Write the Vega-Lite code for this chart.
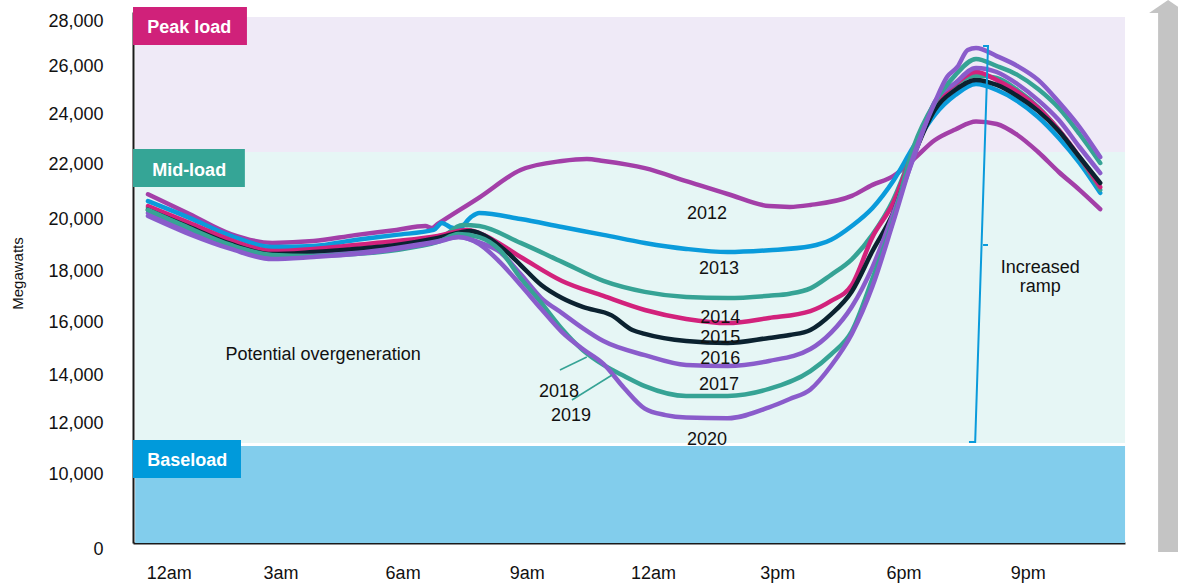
{
  "$schema": "https://vega.github.io/schema/vega-lite/v6.json",
  "width": 992,
  "height": 543,
  "autosize": {"type": "none"},
  "padding": {"left": 133, "top": 0, "right": 53, "bottom": 43},
  "background": "white",
  "config": {"view": {"stroke": null}, "font": "Liberation Sans"},
  "resolve": {"scale": {"color": "independent"}},
  "layer": [
    {
      "data": {"values": [
        {"zone": "peak", "x0": -0.31, "x1": 23.6, "y0": 22480, "y1": 28180},
        {"zone": "mid", "x0": -0.31, "x1": 23.6, "y0": 11216, "y1": 22480},
        {"zone": "base", "x0": -0.31, "x1": 23.6, "y0": 0, "y1": 11098}
      ]},
      "mark": {"type": "rect"},
      "encoding": {
        "x": {"field": "x0", "type": "quantitative",
          "scale": {"domain": [-0.3623, 23.599], "zero": false, "nice": false},
          "axis": {"title": null, "values": [0.5, 3.2, 6.15, 9.15, 12.2, 15.2, 18.25, 21.25],
            "labelExpr": "datum.value < 1 ? '12am' : datum.value < 4 ? '3am' : datum.value < 7 ? '6am' : datum.value < 10 ? '9am' : datum.value < 13 ? '12am' : datum.value < 16 ? '3pm' : datum.value < 19 ? '6pm' : '9pm'",
            "grid": false, "ticks": false, "domainColor": "#1a1a1a", "domainWidth": 2,
            "labelFontSize": 18, "labelColor": "#111111", "labelPadding": 21, "labelOverlap": false, "labelFlush": false}},
        "x2": {"field": "x1"},
        "y": {"field": "y0", "type": "quantitative",
          "scale": {"domain": [0, 10000, 12000, 14000, 16000, 18000, 20000, 22000, 24000, 26000, 28000, 28400],
                    "range": [543, 474, 423, 375, 322, 271, 219, 164, 114, 66, 21, 12], "zero": false, "nice": false},
          "axis": {"title": "Megawatts", "values": [0, 10000, 12000, 14000, 16000, 18000, 20000, 22000, 24000, 26000, 28000],
            "labelExpr": "format(datum.value, ',')", "grid": false, "ticks": false, "domainColor": "#1a1a1a", "domainWidth": 2,
            "labelFontSize": 18, "labelColor": "#111111", "labelPadding": 30, "labelOverlap": false,
            "labelOffset": {"condition": {"test": "datum.value === 0", "value": 6}, "value": 0},
            "titleFontSize": 15, "titleFontWeight": "normal", "titleColor": "#111111",
            "titleX": -116, "titleY": 273, "titleBaseline": "middle", "titleAlign": "center"}},
        "y2": {"field": "y1"},
        "color": {"field": "zone", "type": "nominal", "legend": null,
          "scale": {"domain": ["peak", "mid", "base"], "range": ["#EFEAF7", "#E6F6F5", "#82CDEC"]}}
      }
    },
    {
      "data": {"values": [
        {"zone": "Peak load", "x0": -0.362, "x1": 2.39, "y0": 26933, "y1": 28622},
        {"zone": "Mid-load", "x0": -0.362, "x1": 2.34, "y0": 21164, "y1": 22600},
        {"zone": "Baseload", "x0": -0.362, "x1": 2.246, "y0": 9420, "y1": 11333}
      ]},
      "mark": {"type": "rect"},
      "encoding": {
        "x": {"field": "x0", "type": "quantitative"},
        "x2": {"field": "x1"},
        "y": {"field": "y0", "type": "quantitative"},
        "y2": {"field": "y1"},
        "color": {"field": "zone", "type": "nominal", "legend": null,
          "scale": {"domain": ["Peak load", "Mid-load", "Baseload"], "range": ["#D0217A", "#35A596", "#009ADB"]}}
      }
    },
    {
      "data": {"values": [
        {"t": "Peak load", "hour": -0.02, "mw": 27467},
        {"t": "Mid-load", "hour": 0.1, "mw": 21564},
        {"t": "Baseload", "hour": -0.02, "mw": 10314}
      ]},
      "mark": {"type": "text", "align": "left", "baseline": "alphabetic", "fontSize": 18, "fontWeight": "bold", "color": "white"},
      "encoding": {
        "x": {"field": "hour", "type": "quantitative"},
        "y": {"field": "mw", "type": "quantitative"},
        "text": {"field": "t"}
      }
    },
    {
      "data": {"values": [
        {"year":"2012","hour":0,"mw":20900},{"year":"2012","hour":1,"mw":20180},{"year":"2012","hour":2,"mw":19420},{"year":"2012","hour":3,"mw":19080},{"year":"2012","hour":4,"mw":19150},{"year":"2012","hour":5,"mw":19380},{"year":"2012","hour":6,"mw":19580},{"year":"2012","hour":6.7,"mw":19730},{"year":"2012","hour":6.85,"mw":19650},{"year":"2012","hour":7,"mw":19810},{"year":"2012","hour":8,"mw":20780},{"year":"2012","hour":9,"mw":21780},{"year":"2012","hour":10,"mw":22120},{"year":"2012","hour":10.6,"mw":22200},{"year":"2012","hour":11,"mw":22120},{"year":"2012","hour":12,"mw":21850},{"year":"2012","hour":13,"mw":21380},{"year":"2012","hour":14,"mw":20910},{"year":"2012","hour":15,"mw":20470},{"year":"2012","hour":15.5,"mw":20440},{"year":"2012","hour":16,"mw":20510},{"year":"2012","hour":17,"mw":20840},{"year":"2012","hour":17.5,"mw":21240},{"year":"2012","hour":18,"mw":21560},{"year":"2012","hour":18.5,"mw":22200},{"year":"2012","hour":19,"mw":22950},{"year":"2012","hour":19.5,"mw":23380},{"year":"2012","hour":20,"mw":23700},{"year":"2012","hour":20.5,"mw":23600},{"year":"2012","hour":21,"mw":23160},{"year":"2012","hour":21.5,"mw":22480},{"year":"2012","hour":22,"mw":21710},{"year":"2012","hour":22.5,"mw":21060},{"year":"2012","hour":23,"mw":20360},
        {"year":"2013","hour":0,"mw":20650},{"year":"2013","hour":1,"mw":20040},{"year":"2013","hour":2,"mw":19350},{"year":"2013","hour":3,"mw":18920},{"year":"2013","hour":4,"mw":18960},{"year":"2013","hour":5,"mw":19190},{"year":"2013","hour":6,"mw":19390},{"year":"2013","hour":6.9,"mw":19580},{"year":"2013","hour":7.1,"mw":19850},{"year":"2013","hour":7.3,"mw":19690},{"year":"2013","hour":7.5,"mw":19620},{"year":"2013","hour":7.8,"mw":20070},{"year":"2013","hour":8,"mw":20220},{"year":"2013","hour":9,"mw":20000},{"year":"2013","hour":10,"mw":19690},{"year":"2013","hour":11,"mw":19390},{"year":"2013","hour":12,"mw":19080},{"year":"2013","hour":13,"mw":18850},{"year":"2013","hour":14,"mw":18730},{"year":"2013","hour":15,"mw":18800},{"year":"2013","hour":16,"mw":18950},{"year":"2013","hour":16.5,"mw":19200},{"year":"2013","hour":17,"mw":19730},{"year":"2013","hour":17.5,"mw":20400},{"year":"2013","hour":18,"mw":21380},{"year":"2013","hour":18.5,"mw":22720},{"year":"2013","hour":19,"mw":23960},{"year":"2013","hour":19.5,"mw":24790},{"year":"2013","hour":20,"mw":25250},{"year":"2013","hour":20.5,"mw":25000},{"year":"2013","hour":21,"mw":24540},{"year":"2013","hour":21.5,"mw":23880},{"year":"2013","hour":22,"mw":23040},{"year":"2013","hour":22.5,"mw":22040},{"year":"2013","hour":23,"mw":20950},
        {"year":"2014","hour":0,"mw":20400},{"year":"2014","hour":1,"mw":19730},{"year":"2014","hour":2,"mw":19080},{"year":"2014","hour":3,"mw":18690},{"year":"2014","hour":4,"mw":18650},{"year":"2014","hour":5,"mw":18730},{"year":"2014","hour":6,"mw":18890},{"year":"2014","hour":7,"mw":19190},{"year":"2014","hour":7.6,"mw":19770},{"year":"2014","hour":8,"mw":19730},{"year":"2014","hour":9,"mw":19080},{"year":"2014","hour":10,"mw":18350},{"year":"2014","hour":11,"mw":17610},{"year":"2014","hour":12,"mw":17180},{"year":"2014","hour":13,"mw":16980},{"year":"2014","hour":14,"mw":16940},{"year":"2014","hour":15,"mw":17030},{"year":"2014","hour":15.5,"mw":17110},{"year":"2014","hour":16,"mw":17320},{"year":"2014","hour":16.5,"mw":17850},{"year":"2014","hour":17,"mw":18450},{"year":"2014","hour":17.5,"mw":19400},{"year":"2014","hour":18,"mw":20690},{"year":"2014","hour":18.5,"mw":22560},{"year":"2014","hour":19,"mw":24170},{"year":"2014","hour":19.5,"mw":25210},{"year":"2014","hour":20,"mw":25600},{"year":"2014","hour":20.5,"mw":25500},{"year":"2014","hour":21,"mw":25000},{"year":"2014","hour":21.5,"mw":24290},{"year":"2014","hour":22,"mw":23360},{"year":"2014","hour":22.5,"mw":22240},{"year":"2014","hour":23,"mw":21060},
        {"year":"2015","hour":0,"mw":20470},{"year":"2015","hour":1,"mw":19850},{"year":"2015","hour":2,"mw":19190},{"year":"2015","hour":3,"mw":18770},{"year":"2015","hour":4,"mw":18850},{"year":"2015","hour":5,"mw":19000},{"year":"2015","hour":6,"mw":19150},{"year":"2015","hour":7,"mw":19350},{"year":"2015","hour":7.7,"mw":19580},{"year":"2015","hour":8,"mw":19460},{"year":"2015","hour":9,"mw":18540},{"year":"2015","hour":10,"mw":17610},{"year":"2015","hour":11,"mw":17020},{"year":"2015","hour":12,"mw":16470},{"year":"2015","hour":13,"mw":16120},{"year":"2015","hour":14,"mw":15960},{"year":"2015","hour":15,"mw":16160},{"year":"2015","hour":16,"mw":16430},{"year":"2015","hour":16.5,"mw":16830},{"year":"2015","hour":17,"mw":17450},{"year":"2015","hour":17.5,"mw":19310},{"year":"2015","hour":18,"mw":20580},{"year":"2015","hour":18.5,"mw":22560},{"year":"2015","hour":19,"mw":24380},{"year":"2015","hour":19.5,"mw":25250},{"year":"2015","hour":20,"mw":25750},{"year":"2015","hour":20.5,"mw":25420},{"year":"2015","hour":21,"mw":24920},{"year":"2015","hour":21.5,"mw":24250},{"year":"2015","hour":22,"mw":23360},{"year":"2015","hour":22.5,"mw":22280},{"year":"2015","hour":23,"mw":21160},
        {"year":"2016","hour":0,"mw":20330},{"year":"2016","hour":1,"mw":19690},{"year":"2016","hour":2,"mw":19040},{"year":"2016","hour":3,"mw":18650},{"year":"2016","hour":4,"mw":18730},{"year":"2016","hour":5,"mw":18850},{"year":"2016","hour":6,"mw":19000},{"year":"2016","hour":7,"mw":19270},{"year":"2016","hour":7.8,"mw":19540},{"year":"2016","hour":8,"mw":19460},{"year":"2016","hour":8.7,"mw":18690},{"year":"2016","hour":9,"mw":18230},{"year":"2016","hour":9.5,"mw":17450},{"year":"2016","hour":10,"mw":16940},{"year":"2016","hour":10.5,"mw":16590},{"year":"2016","hour":11.2,"mw":16260},{"year":"2016","hour":11.7,"mw":15700},{"year":"2016","hour":12,"mw":15550},{"year":"2016","hour":13,"mw":15280},{"year":"2016","hour":14,"mw":15210},{"year":"2016","hour":15,"mw":15400},{"year":"2016","hour":15.5,"mw":15510},{"year":"2016","hour":16,"mw":15700},{"year":"2016","hour":16.5,"mw":16300},{"year":"2016","hour":17,"mw":17200},{"year":"2016","hour":17.5,"mw":18770},{"year":"2016","hour":18,"mw":20220},{"year":"2016","hour":18.5,"mw":22360},{"year":"2016","hour":19,"mw":24170},{"year":"2016","hour":19.5,"mw":25000},{"year":"2016","hour":20,"mw":25420},{"year":"2016","hour":20.5,"mw":25210},{"year":"2016","hour":21,"mw":24750},{"year":"2016","hour":21.5,"mw":24130},{"year":"2016","hour":22,"mw":23320},{"year":"2016","hour":22.5,"mw":22280},{"year":"2016","hour":23,"mw":21310},
        {"year":"2017","hour":0,"mw":20220},{"year":"2017","hour":1,"mw":19540},{"year":"2017","hour":2,"mw":18920},{"year":"2017","hour":3,"mw":18540},{"year":"2017","hour":4,"mw":18580},{"year":"2017","hour":5,"mw":18690},{"year":"2017","hour":6,"mw":18890},{"year":"2017","hour":7,"mw":19150},{"year":"2017","hour":7.5,"mw":19310},{"year":"2017","hour":8,"mw":19100},{"year":"2017","hour":8.5,"mw":18730},{"year":"2017","hour":9,"mw":17880},{"year":"2017","hour":9.5,"mw":16940},{"year":"2017","hour":10,"mw":16350},{"year":"2017","hour":10.5,"mw":15770},{"year":"2017","hour":11,"mw":15280},{"year":"2017","hour":12,"mw":14750},{"year":"2017","hour":13,"mw":14380},{"year":"2017","hour":14,"mw":14340},{"year":"2017","hour":15,"mw":14530},{"year":"2017","hour":16,"mw":14980},{"year":"2017","hour":16.5,"mw":15600},{"year":"2017","hour":17,"mw":16600},{"year":"2017","hour":17.5,"mw":18150},{"year":"2017","hour":18,"mw":20200},{"year":"2017","hour":18.5,"mw":22280},{"year":"2017","hour":19,"mw":24500},{"year":"2017","hour":19.5,"mw":25290},{"year":"2017","hour":20,"mw":25920},{"year":"2017","hour":20.5,"mw":25750},{"year":"2017","hour":21,"mw":25250},{"year":"2017","hour":21.5,"mw":24580},{"year":"2017","hour":22,"mw":23760},{"year":"2017","hour":22.5,"mw":22680},{"year":"2017","hour":23,"mw":21670},
        {"year":"2018","hour":0,"mw":20330},{"year":"2018","hour":1,"mw":19650},{"year":"2018","hour":2,"mw":19000},{"year":"2018","hour":3,"mw":18620},{"year":"2018","hour":4,"mw":18580},{"year":"2018","hour":5,"mw":18650},{"year":"2018","hour":6,"mw":18810},{"year":"2018","hour":7,"mw":19120},{"year":"2018","hour":7.5,"mw":19420},{"year":"2018","hour":8,"mw":19300},{"year":"2018","hour":8.5,"mw":18800},{"year":"2018","hour":9,"mw":17720},{"year":"2018","hour":9.5,"mw":16750},{"year":"2018","hour":10,"mw":15740},{"year":"2018","hour":10.5,"mw":14940},{"year":"2018","hour":11,"mw":14380},{"year":"2018","hour":11.5,"mw":13960},{"year":"2018","hour":12,"mw":13540},{"year":"2018","hour":13,"mw":13130},{"year":"2018","hour":14,"mw":13130},{"year":"2018","hour":15,"mw":13420},{"year":"2018","hour":16,"mw":14150},{"year":"2018","hour":16.5,"mw":14780},{"year":"2018","hour":17,"mw":15650},{"year":"2018","hour":17.5,"mw":17700},{"year":"2018","hour":18,"mw":19960},{"year":"2018","hour":18.5,"mw":22720},{"year":"2018","hour":19,"mw":24460},{"year":"2018","hour":19.5,"mw":25620},{"year":"2018","hour":20,"mw":26310},{"year":"2018","hour":20.5,"mw":26000},{"year":"2018","hour":21,"mw":25630},{"year":"2018","hour":21.5,"mw":25040},{"year":"2018","hour":22,"mw":24250},{"year":"2018","hour":22.5,"mw":23200},{"year":"2018","hour":23,"mw":22040},
        {"year":"2020","hour":0,"mw":20110},{"year":"2020","hour":1,"mw":19420},{"year":"2020","hour":2,"mw":18850},{"year":"2020","hour":3,"mw":18460},{"year":"2020","hour":4,"mw":18540},{"year":"2020","hour":5,"mw":18650},{"year":"2020","hour":6,"mw":18850},{"year":"2020","hour":7,"mw":19120},{"year":"2020","hour":7.5,"mw":19310},{"year":"2020","hour":8,"mw":19040},{"year":"2020","hour":8.5,"mw":18340},{"year":"2020","hour":9,"mw":17450},{"year":"2020","hour":9.5,"mw":16510},{"year":"2020","hour":10,"mw":15620},{"year":"2020","hour":10.5,"mw":14980},{"year":"2020","hour":11,"mw":14420},{"year":"2020","hour":11.5,"mw":13460},{"year":"2020","hour":12,"mw":12600},{"year":"2020","hour":12.5,"mw":12330},{"year":"2020","hour":13,"mw":12230},{"year":"2020","hour":14,"mw":12200},{"year":"2020","hour":15,"mw":12650},{"year":"2020","hour":15.5,"mw":13000},{"year":"2020","hour":16,"mw":13400},{"year":"2020","hour":16.5,"mw":14350},{"year":"2020","hour":17,"mw":15550},{"year":"2020","hour":17.5,"mw":17400},{"year":"2020","hour":18,"mw":19880},{"year":"2020","hour":18.5,"mw":22360},{"year":"2020","hour":19,"mw":24460},{"year":"2020","hour":19.3,"mw":25540},{"year":"2020","hour":19.55,"mw":25960},{"year":"2020","hour":19.8,"mw":26710},{"year":"2020","hour":20,"mw":26800},{"year":"2020","hour":20.5,"mw":26440},{"year":"2020","hour":21,"mw":26000},{"year":"2020","hour":21.5,"mw":25420},{"year":"2020","hour":22,"mw":24500},{"year":"2020","hour":22.5,"mw":23480},{"year":"2020","hour":23,"mw":22280}
      ]},
      "mark": {"type": "line", "interpolate": "monotone", "strokeWidth": 4.5, "strokeCap": "round", "strokeJoin": "round"},
      "encoding": {
        "x": {"field": "hour", "type": "quantitative"},
        "y": {"field": "mw", "type": "quantitative"},
        "color": {"field": "year", "type": "nominal", "legend": null,
          "scale": {"domain": ["2012", "2013", "2014", "2015", "2016", "2017", "2018", "2020"],
                    "range": ["#A33FA8", "#0A9BDB", "#36A395", "#D2227C", "#0B2230", "#8A5CCB", "#36A395", "#8A5CCB"]}}
      }
    },
    {
      "data": {"values": [
        {"id": "2018", "hour": 9.95, "mw": 14189},
        {"id": "2018", "hour": 10.6, "mw": 14679},
        {"id": "2019", "hour": 10.24, "mw": 12958},
        {"id": "2019", "hour": 11.21, "mw": 14000}
      ]},
      "mark": {"type": "line", "color": "#36A395", "strokeWidth": 1.5},
      "encoding": {
        "x": {"field": "hour", "type": "quantitative"},
        "y": {"field": "mw", "type": "quantitative"},
        "detail": {"field": "id"}
      }
    },
    {
      "data": {"values": [
        {"k": 1, "hour": 20.17, "mw": 26889},
        {"k": 2, "hour": 20.29, "mw": 26889},
        {"k": 3, "hour": 19.98, "mw": 11255},
        {"k": 4, "hour": 19.83, "mw": 11255}
      ]},
      "mark": {"type": "line", "color": "#0A9BDB", "strokeWidth": 2},
      "encoding": {
        "x": {"field": "hour", "type": "quantitative"},
        "y": {"field": "mw", "type": "quantitative"},
        "order": {"field": "k"}
      }
    },
    {
      "data": {"values": [{"h0": 20.17, "h1": 20.29, "mw": 19000}]},
      "mark": {"type": "rule", "color": "#0A9BDB", "strokeWidth": 2},
      "encoding": {
        "x": {"field": "h0", "type": "quantitative"},
        "x2": {"field": "h1"},
        "y": {"field": "mw", "type": "quantitative"}
      }
    },
    {
      "data": {"values": [
        {"t": "2012", "hour": 13.5, "mw": 20000},
        {"t": "2013", "hour": 13.79, "mw": 17863},
        {"t": "2014", "hour": 13.82, "mw": 15962},
        {"t": "2015", "hour": 13.82, "mw": 15208},
        {"t": "2016", "hour": 13.82, "mw": 14415},
        {"t": "2017", "hour": 13.79, "mw": 13375},
        {"t": "2018", "hour": 9.93, "mw": 13083},
        {"t": "2019", "hour": 10.22, "mw": 12083},
        {"t": "2020", "hour": 13.5, "mw": 11137},
        {"t": "Potential overgeneration", "hour": 4.23, "mw": 14566},
        {"t": "Increased", "hour": 21.55, "mw": 17923},
        {"t": "ramp", "hour": 21.55, "mw": 17176}
      ]},
      "mark": {"type": "text", "align": "center", "baseline": "alphabetic", "fontSize": 18, "color": "#111111"},
      "encoding": {
        "x": {"field": "hour", "type": "quantitative"},
        "y": {"field": "mw", "type": "quantitative"},
        "text": {"field": "t"}
      }
    },
    {
      "data": {"values": [{"hour": 24.64, "lo": -1304, "hi": 28355}]},
      "mark": {"type": "rule", "color": "#C4C4C4", "strokeWidth": 20},
      "encoding": {
        "x": {"field": "hour", "type": "quantitative"},
        "y": {"field": "lo", "type": "quantitative"},
        "y2": {"field": "hi"}
      }
    },
    {
      "data": {"values": [{"hour": 24.64, "mw": 28933}]},
      "mark": {"type": "point", "shape": "M-1,0.684L0,0L1,0.684Z", "size": 1444, "filled": true, "opacity": 1, "color": "#C4C4C4", "strokeWidth": 0},
      "encoding": {
        "x": {"field": "hour", "type": "quantitative"},
        "y": {"field": "mw", "type": "quantitative"}
      }
    }
  ]
}
